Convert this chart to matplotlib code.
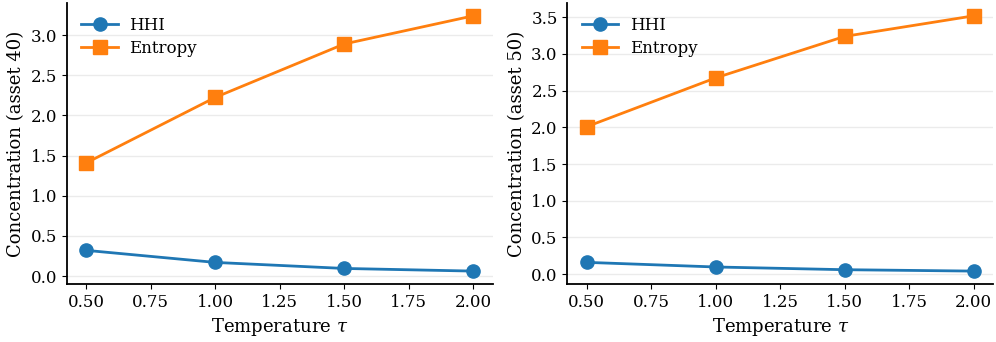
import matplotlib
matplotlib.use("Agg")
import matplotlib.pyplot as plt

temps = [0.5, 1.0, 1.5, 2.0]
hhi_40 = [0.32, 0.17, 0.095, 0.062]
ent_40 = [1.41, 2.225, 2.89, 3.24]
hhi_50 = [0.16, 0.097, 0.06, 0.041]
ent_50 = [2.01, 2.675, 3.24, 3.52]
assets = ["40", "50"]

plt.rcParams['font.family'] = 'DejaVu Serif'
plt.rcParams['mathtext.fontset'] = 'dejavuserif'

fig, axes = plt.subplots(1, 2, figsize=(9.96, 3.42), dpi=100)

for ax, hhi, ent, asset in zip(axes, [hhi_40, hhi_50], [ent_40, ent_50], assets):
    ax.plot(temps, hhi, marker='o', color='#1f77b4', lw=2, ms=9.5, label='HHI')
    ax.plot(temps, ent, marker='s', color='#ff7f0e', lw=2, ms=9.5, label='Entropy')
    ax.set_xlabel(r'Temperature $\tau$', fontsize=13)
    ax.set_ylabel('Concentration (asset %s)' % asset, fontsize=13)
    ax.set_xticks([0.5, 0.75, 1.0, 1.25, 1.5, 1.75, 2.0])
    ax.tick_params(labelsize=12)
    ax.grid(axis='y', color='#ebebeb', lw=1)
    ax.set_axisbelow(True)
    ax.spines['top'].set_visible(False)
    ax.spines['right'].set_visible(False)
    ax.spines['left'].set_linewidth(1.3)
    ax.spines['bottom'].set_linewidth(1.3)
    ax.legend(loc='upper left', frameon=False, fontsize=12, handlelength=2.2,
              handletextpad=0.7, labelspacing=0.35, borderaxespad=0.45)

fig.subplots_adjust(left=0.0673, right=0.997, top=0.991, bottom=0.170, wspace=0.176)
plt.savefig('out.png')
